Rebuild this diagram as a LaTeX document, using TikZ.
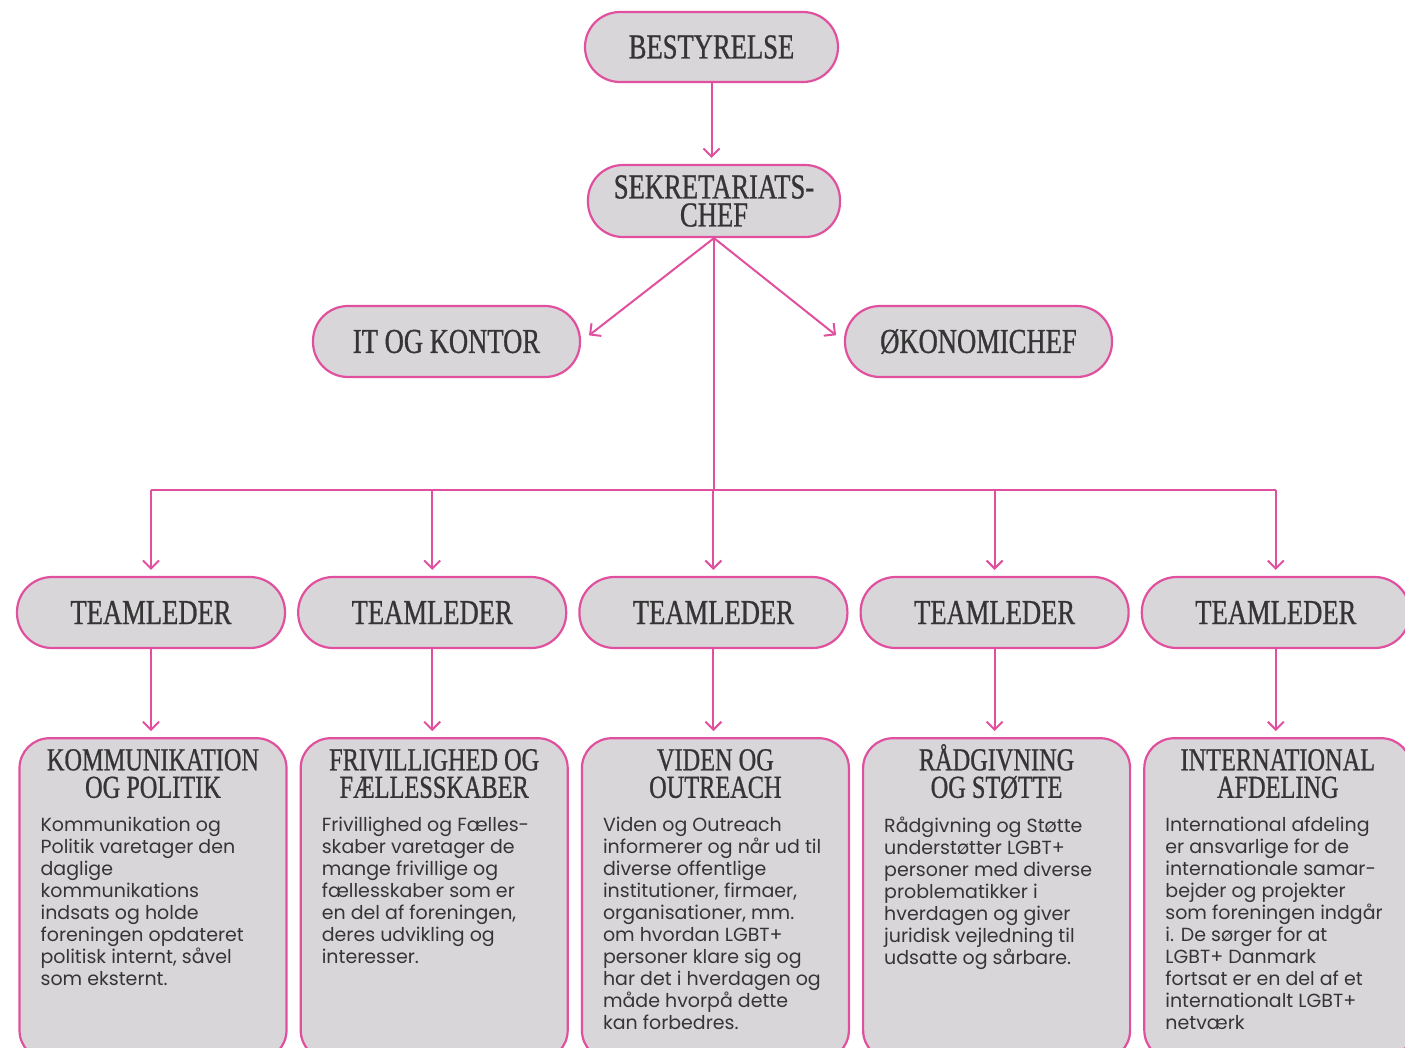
\documentclass[tikz,border=0pt]{standalone}
\usepackage{fontspec}
\usepackage{xcolor}
\usepackage{tikz}
\usetikzlibrary{positioning,calc,arrows.meta}
\newfontfamily\headfont[FakeStretch=0.76,FakeBold=0.8]{Liberation Serif}
\newfontfamily\bodyfont{Poppins}
\definecolor{rose}{HTML}{E0509E}
\definecolor{boxbg}{HTML}{D9D6D9}
\definecolor{ink}{HTML}{353535}
\newcommand{\hstrut}{\rule{0pt}{27pt}}
\tikzset{
  pill/.style={
    draw=rose, fill=boxbg, line width=2.2pt,
    rounded corners=35pt,
    minimum width=268pt, minimum height=71pt,
    inner sep=0pt, align=center,
    text=ink, font=\headfont\fontsize{35}{28}\selectfont
  },
  dept/.style={
    draw=rose, fill=boxbg, line width=2.2pt,
    rounded corners=30pt,
    minimum width=267pt, minimum height=322pt,
    inner sep=0pt
  },
  depthead/.style={
    text=ink, font=\headfont\fontsize{32}{27.5}\selectfont,
    align=center, inner sep=0pt
  },
  deptbody/.style={
    text=ink, font=\bodyfont\fontsize{19}{22}\selectfont,
    align=left, inner sep=0pt, anchor=north west
  },
  link/.style={draw=rose, line width=2pt, -{Straight Barb[length=8pt,width=16pt]}, shorten >=6pt},
  bus/.style={draw=rose, line width=2pt}
}

\begin{document}
\begin{tikzpicture}[x=1pt,y=1pt]
  \useasboundingbox (0,0) rectangle (1405,-1047);
  \fill[white] (0,0) rectangle (1405,-1047);

  % ledelse
  \node[pill, minimum width=253pt, minimum height=70pt] (bes) at (711.5,-47) {BESTYRELSE};
  \node[pill, minimum width=252pt, minimum height=72pt] (sek) at (714,-201) {SEKRETARIATS-\\CHEF};
  \node[pill, minimum width=267pt] (it) at (446.5,-341.5) {IT OG KONTOR};
  \node[pill, minimum width=267pt] (oko) at (978.5,-341.5) {ØKONOMICHEF};

  % teamledere
  \node[pill] (t1) at (151,-612.5) {TEAMLEDER};
  \node[pill, right=11pt of t1] (t2) {TEAMLEDER};
  \node[pill, right=11pt of t2] (t3) {TEAMLEDER};
  \node[pill, right=11pt of t3] (t4) {TEAMLEDER};
  \node[pill, right=11pt of t4] (t5) {TEAMLEDER};

  % afdelinger
  \foreach \i in {1,...,5}
    \node[dept, below=88pt of t\i, xshift=2pt] (d\i) {};

  \node[depthead, below=6pt of d1.north] (h1) {\hstrut KOMMUNIKATION\\OG POLITIK};
  \node[depthead, below=6pt of d2.north] (h2) {\hstrut FRIVILLIGHED OG\\FÆLLESSKABER};
  \node[depthead, below=6pt of d3.north] (h3) {\hstrut VIDEN OG\\OUTREACH};
  \node[depthead, below=6pt of d4.north] (h4) {\hstrut RÅDGIVNING\\OG STØTTE};
  \node[depthead, below=6pt of d5.north] (h5) {\hstrut INTERNATIONAL\\AFDELING};

  \node[deptbody] (b1) at ($(d1.north west)+(22,-80)$) {Kommunikation og\\Politik varetager den\\daglige\\kommunikations\\indsats og holde\\foreningen opdateret\\politisk internt, såvel\\som eksternt.};
  \node[deptbody] (b2) at ($(d2.north west)+(22,-80)$) {Frivillighed og Fælles-\\skaber varetager de\\mange frivillige og\\fællesskaber som er\\en del af foreningen,\\deres udvikling og\\interesser.};
  \node[deptbody] (b3) at ($(d3.north west)+(22,-80)$) {Viden og Outreach\\informerer og når ud til\\diverse offentlige\\institutioner, firmaer,\\organisationer, mm.\\om hvordan LGBT+\\personer klare sig og\\har det i hverdagen og\\måde hvorpå dette\\kan forbedres.};
  \node[deptbody] (b4) at ($(d4.north west)+(22,-80)$) {Rådgivning og Støtte\\understøtter LGBT+\\personer med diverse\\problematikker i\\hverdagen og giver\\juridisk vejledning til\\udsatte og sårbare.};
  \node[deptbody] (b5) at ($(d5.north west)+(22,-80)$) {International afdeling\\er ansvarlige for de\\internationale samar-\\bejder og projekter\\som foreningen indgår\\i. De sørger for at\\LGBT+ Danmark\\fortsat er en del af et\\internationalt LGBT+\\netværk};

  % forbindelser
  \coordinate (hub) at (714,-490);
  \draw[link] (bes.south) -- (bes.south |- sek.north);
  \draw[link, shorten >=10pt] (sek.south) -- (it.east);
  \draw[link, shorten >=10pt] (sek.south) -- (oko.west);
  \draw[bus] (sek.south) -- (hub);
  \draw[bus] (t1 |- hub) -- (t5 |- hub);
  \foreach \i in {1,...,5} {
    \draw[link] (t\i |- hub) -- (t\i.north);
    \draw[link] (t\i.south) -- (t\i.south |- d\i.north);
  }
\end{tikzpicture}
\end{document}
